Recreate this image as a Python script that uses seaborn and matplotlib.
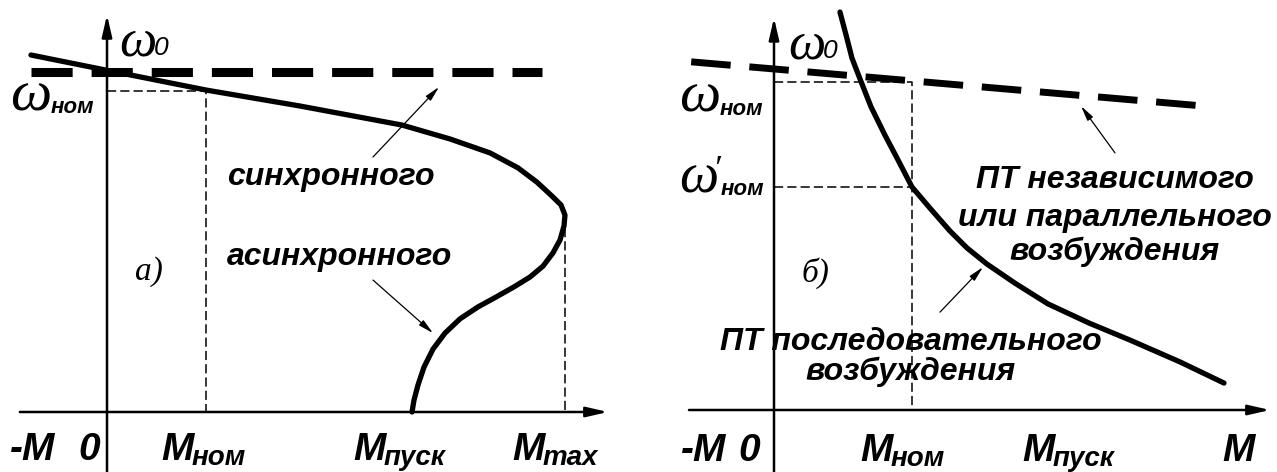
import matplotlib
matplotlib.use("Agg")
import matplotlib.pyplot as plt
import seaborn as sns

# ---- а) synchronous and asynchronous motors -------------------------------
sync_M = [-0.77, 4.39]
sync_w = [1.0, 1.0]

async_M = [-0.768, 0.0, 1.0, 1.949, 2.98, 3.465, 3.869, 4.152, 4.343, 4.495,
           4.586, 4.626, 4.616, 4.576, 4.505, 4.404, 4.273, 4.111, 3.929,
           3.747, 3.566, 3.414, 3.293, 3.202, 3.141, 3.101, 3.081]
async_w = [1.05, 1.005, 0.947, 0.90, 0.844, 0.803, 0.762, 0.718, 0.676, 0.635,
           0.609, 0.579, 0.547, 0.506, 0.468, 0.429, 0.397, 0.368, 0.338,
           0.309, 0.274, 0.232, 0.185, 0.132, 0.079, 0.035, 0.0]

a_M_nom, a_w_nom = 1.0, 0.944
a_M_max, a_w_max = 4.626, 0.54

a_tick_main = ["-M", "0", "M", "M", "M"]
a_tick_sub = ["", "", "ном", "пуск", "max"]
a_tick_pos = [-0.98, -0.293, 0.545, 2.485, 4.09]

# ---- б) DC motors -----------------------------------------------------------
indep_M = [-0.60, 3.18]
indep_w = [1.021, 0.889]

series_M = [0.478, 0.522, 0.565, 0.623, 0.703, 0.804, 0.899, 1.0, 1.13, 1.275,
            1.399, 1.543, 1.746, 1.986, 2.283, 2.58, 2.942, 3.261]
series_w = [1.167, 1.10, 1.032, 0.971, 0.889, 0.806, 0.733, 0.654, 0.592,
            0.525, 0.475, 0.428, 0.372, 0.311, 0.255, 0.205, 0.141, 0.079]

b_M_nom, b_w_nom, b_w_nom2 = 1.0, 0.962, 0.654

b_tick_main = ["-M", "0", "M", "M", "M"]
b_tick_sub = ["", "", "ном", "пуск", ""]
b_tick_pos = [-0.674, -0.261, 0.623, 1.797, 3.246]

# ---- style ------------------------------------------------------------------
sns.set_theme(style="white")
plt.rcParams["font.family"] = ["Liberation Sans", "DejaVu Sans"]

INK = "black"
LABEL = dict(fontsize=23, fontweight="bold", fontstyle="italic", color=INK)
TICK = dict(fontsize=28, fontweight="bold", fontstyle="italic", color=INK)
TICK_SUB = dict(fontsize=20, fontweight="bold", fontstyle="italic", color=INK)
SUB = dict(fontsize=16, fontweight="bold", fontstyle="italic", color=INK)
ZERO = dict(fontsize=19, fontstyle="italic", color=INK)
SERIF_IT = dict(family="Liberation Serif", fontstyle="italic", color=INK)
PX = 0.72  # points per pixel at 100 dpi

fig = plt.figure(figsize=(12.77, 4.72), dpi=100)
ax_a = fig.add_axes([0, 0, 640 / 1277, 1])
ax_b = fig.add_axes([640 / 1277, 0, 637 / 1277, 1])
ax_a.set_xlim(-1.0808, 5.3838)
ax_a.set_ylim(-0.1765, 1.2118)
ax_b.set_xlim(-0.971, 3.645)
ax_b.set_ylim(-0.1818, 1.2023)
for ax in (ax_a, ax_b):
    ax.set_axis_off()


def axes_arrows(ax, x0, x1, y0, y1):
    style = "-|>,head_length=1.3,head_width=0.3"
    kw = dict(arrowstyle=style, lw=1.8, color=INK, shrinkA=0, shrinkB=0,
              mutation_scale=10)
    ax.annotate("", xy=(x1, 0), xytext=(x0, 0), arrowprops=kw)
    ax.annotate("", xy=(0, y1), xytext=(0, y0), arrowprops=kw)


def pointer(ax, start, end):
    ax.annotate("", xy=end, xytext=start,
                arrowprops=dict(arrowstyle="-|>,head_length=0.9,head_width=0.2",
                                lw=0.9, color=INK, shrinkA=0, shrinkB=0,
                                mutation_scale=10))


def omega(ax, x, y, sub, size, sub_dx, sub_dy=-3, prime_dx=None, sub_kw=SUB):
    """Greek omega with a sans subscript (and an optional prime)."""
    ax.text(x, y, "ω", fontsize=size, ha="left", va="baseline", **SERIF_IT)
    if prime_dx is not None:
        ax.annotate("′", xy=(x, y), xytext=(prime_dx * PX, 12 * PX),
                    textcoords="offset points", fontsize=26, ha="left",
                    va="baseline", **SERIF_IT)
    ax.annotate(sub, xy=(x, y), xytext=(sub_dx * PX, sub_dy * PX),
                textcoords="offset points", ha="left", va="baseline", **sub_kw)


def tick_label(ax, x, y, main, sub):
    ax.text(x, y, main, ha="left", va="baseline", **TICK)
    if sub:
        ax.annotate(sub, xy=(x, y), xytext=(31 * PX, -5 * PX),
                    textcoords="offset points", ha="left", va="baseline",
                    **TICK_SUB)


def draw(ax, xs, ys, lw, ls="-"):
    sns.lineplot(x=xs, y=ys, sort=False, estimator=None, color=INK, lw=lw,
                 linestyle=ls, solid_joinstyle="round", ax=ax)


thin_dash = (0, (6, 2.7))

# ---- panel а) ---------------------------------------------------------------
axes_arrows(ax_a, -0.88, 5.06, -0.1765, 1.168)
draw(ax_a, [0, a_M_nom, a_M_nom], [a_w_nom, a_w_nom, 0], 1.1, thin_dash)
draw(ax_a, [a_M_max, a_M_max], [a_w_max, 0], 1.1, thin_dash)
draw(ax_a, sync_M, sync_w, 6.5, (0, (4.56, 2.1)))
draw(ax_a, async_M, async_w, 3.8)

omega(ax_a, 0.121, 1.05, "0", 38, 35, sub_dy=0, sub_kw=ZERO)
omega(ax_a, -0.98, 0.888, "ном", 42, 41)
ax_a.text(1.212, 0.668, "синхронного", ha="left", va="baseline", **LABEL)
ax_a.text(1.212, 0.432, "асинхронного", ha="left", va="baseline", **LABEL)
ax_a.text(0.283, 0.388, "а)", ha="left", va="baseline", fontsize=24, **SERIF_IT)
pointer(ax_a, (2.687, 0.75), (3.354, 0.956))
pointer(ax_a, (2.687, 0.388), (3.293, 0.232))
for pos, main, sub in zip(a_tick_pos, a_tick_main, a_tick_sub):
    tick_label(ax_a, pos, -0.141, main, sub)

# ---- panel б) ---------------------------------------------------------------
axes_arrows(ax_b, -0.616, 3.594, -0.1818, 1.150)
draw(ax_b, [0, b_M_nom, b_M_nom], [b_w_nom, b_w_nom, 0], 1.1, thin_dash)
draw(ax_b, [0, b_M_nom], [b_w_nom2, b_w_nom2], 1.1, thin_dash)
draw(ax_b, indep_M, indep_w, 5.0, (0, (5.7, 2.7)))
draw(ax_b, series_M, series_w, 3.8)

omega(ax_b, 0.101, 1.032, "0", 38, 35, sub_dy=0, sub_kw=ZERO)
omega(ax_b, -0.688, 0.874, "ном", 42, 41)
omega(ax_b, -0.688, 0.639, "ном", 40, 42, prime_dx=34)
ax_b.text(0.196, 0.375, "б)", ha="left", va="baseline", fontsize=24, **SERIF_IT)
for w, line in zip([0.651, 0.540, 0.44],
                   ["ПТ независимого", "или параллельного", "возбуждения"]):
    ax_b.text(2.471, w, line, ha="center", va="baseline", **LABEL)
for w, line in zip([0.176, 0.088], ["ПТ последовательного", "возбуждения"]):
    ax_b.text(0.99, w, line, ha="center", va="baseline", **LABEL)
pointer(ax_b, (2.471, 0.754), (2.225, 0.891))
pointer(ax_b, (1.203, 0.287), (1.514, 0.419))
for pos, main, sub in zip(b_tick_pos, b_tick_main, b_tick_sub):
    tick_label(ax_b, pos, -0.149, main, sub)

fig.savefig("out.png", dpi=100)
